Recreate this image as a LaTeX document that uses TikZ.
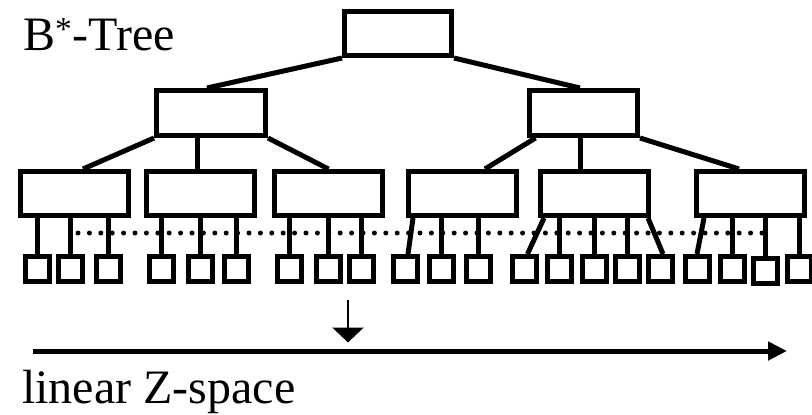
\documentclass[tikz,border=0pt]{standalone}
\usepackage{fontspec}
\setmainfont{Liberation Serif}
\usetikzlibrary{arrows.meta}
\begin{document}
\begin{tikzpicture}[x=1pt,y=-1pt,
  inner/.style={draw,line width=5pt,inner sep=0pt,minimum width=108pt,minimum height=44pt},
  leaf/.style={draw,line width=5pt,inner sep=0pt,minimum width=24pt,minimum height=25pt},
  edge/.style={line width=5pt},
  lbl/.style={inner sep=0pt,anchor=base west,font=\fontsize{48}{50}\selectfont}]
\useasboundingbox (0,0) rectangle (812,415);
% tree nodes
\node[inner,minimum width=107pt] (root) at (398,33.5) {};
\node[inner,minimum width=109pt,minimum height=45pt] (L) at (211,113) {};
\node[inner,minimum height=45pt] (R) at (583.5,113) {};
\node[inner] (b1) at (74.5,193.5) {};
\node[inner] (b2) at (200,193.5) {};
\node[inner] (b3) at (328.5,193.5) {};
\node[inner] (b4) at (462,193.5) {};
\node[inner] (b5) at (594.5,193.5) {};
\node[inner] (b6) at (750,193.5) {};
% leaves
\foreach \i/\x in {1/37.5,2/70,3/108.5,4/161.5,5/200.5,6/236.5,7/289.5,8/328.5,9/361.5,10/405,11/441.5,12/478.5,13/524.5,14/559.5,15/594.5,16/627.5,17/660,18/697,19/732,21/799.5}
  \node[leaf] (l\i) at (\x,269) {};
\node[leaf] (l20) at (765.5,271) {};
% root edges
\draw[edge] (root.south west) -- ([xshift=-4pt]L.north);
\draw[edge] (root.south east) -- ([xshift=-3.5pt]R.north);
% level 2 edges
\draw[edge] (L.south west) -- ([xshift=8.5pt]b1.north);
\draw[edge] (L.south -| b2.north) ++(-3pt,0) -- ([xshift=-3pt]b2.north);
\draw[edge] (L.south east) -- (b3.north);
\draw[edge] ([xshift=-48pt]R.south) -- ([xshift=23pt]b4.north);
\draw[edge] ([xshift=-3.5pt]R.south) -- ([xshift=-14.5pt]b5.north);
\draw[edge] (R.south east) -- ([xshift=-11pt]b6.north);
% leaf edges
\foreach \b/\i in {b1/1,b1/2,b1/3,b2/4,b2/5,b2/6,b3/7,b3/8,b3/9,b4/11,b4/12,b5/14,b5/15,b5/16,b6/19,b6/20,b6/21}
  \draw[edge] (\b.south -| l\i.north) -- (l\i.north);
\draw[edge] ([xshift=-49pt]b4.south) -- ([xshift=3pt]l10.north);
\draw[edge] ([xshift=-50.5pt]b5.south) -- ([xshift=3pt]l13.north);
\draw[edge] ([xshift=53.5pt]b5.south) -- ([xshift=3pt]l17.north);
\draw[edge] ([xshift=-46pt]b6.south) -- (l18.north);
% dotted line
\coordinate (dl) at (78,233);
\coordinate (dr) at (762,233);
\draw[line width=5pt,line cap=round,dash pattern=on 0pt off 11.4pt] (dl) -- (dr);
% z-space arrows
\coordinate (zs) at (33,351);
\coordinate (ze) at (787,351);
\draw[line width=5pt,-{Triangle[length=19pt,width=18pt]}] (zs) -- (ze);
\coordinate (ds) at (348,300);
\coordinate (de) at (348,342.5);
\draw[line width=2.5pt,-{Triangle[length=15pt,width=31pt]}] (ds) -- (de);
% labels
\node[lbl] (t1) at (23,50) {B\textsuperscript{*}-Tree};
\node[lbl] (t2) at (22,403) {linear Z-space};
\end{tikzpicture}
\end{document}
